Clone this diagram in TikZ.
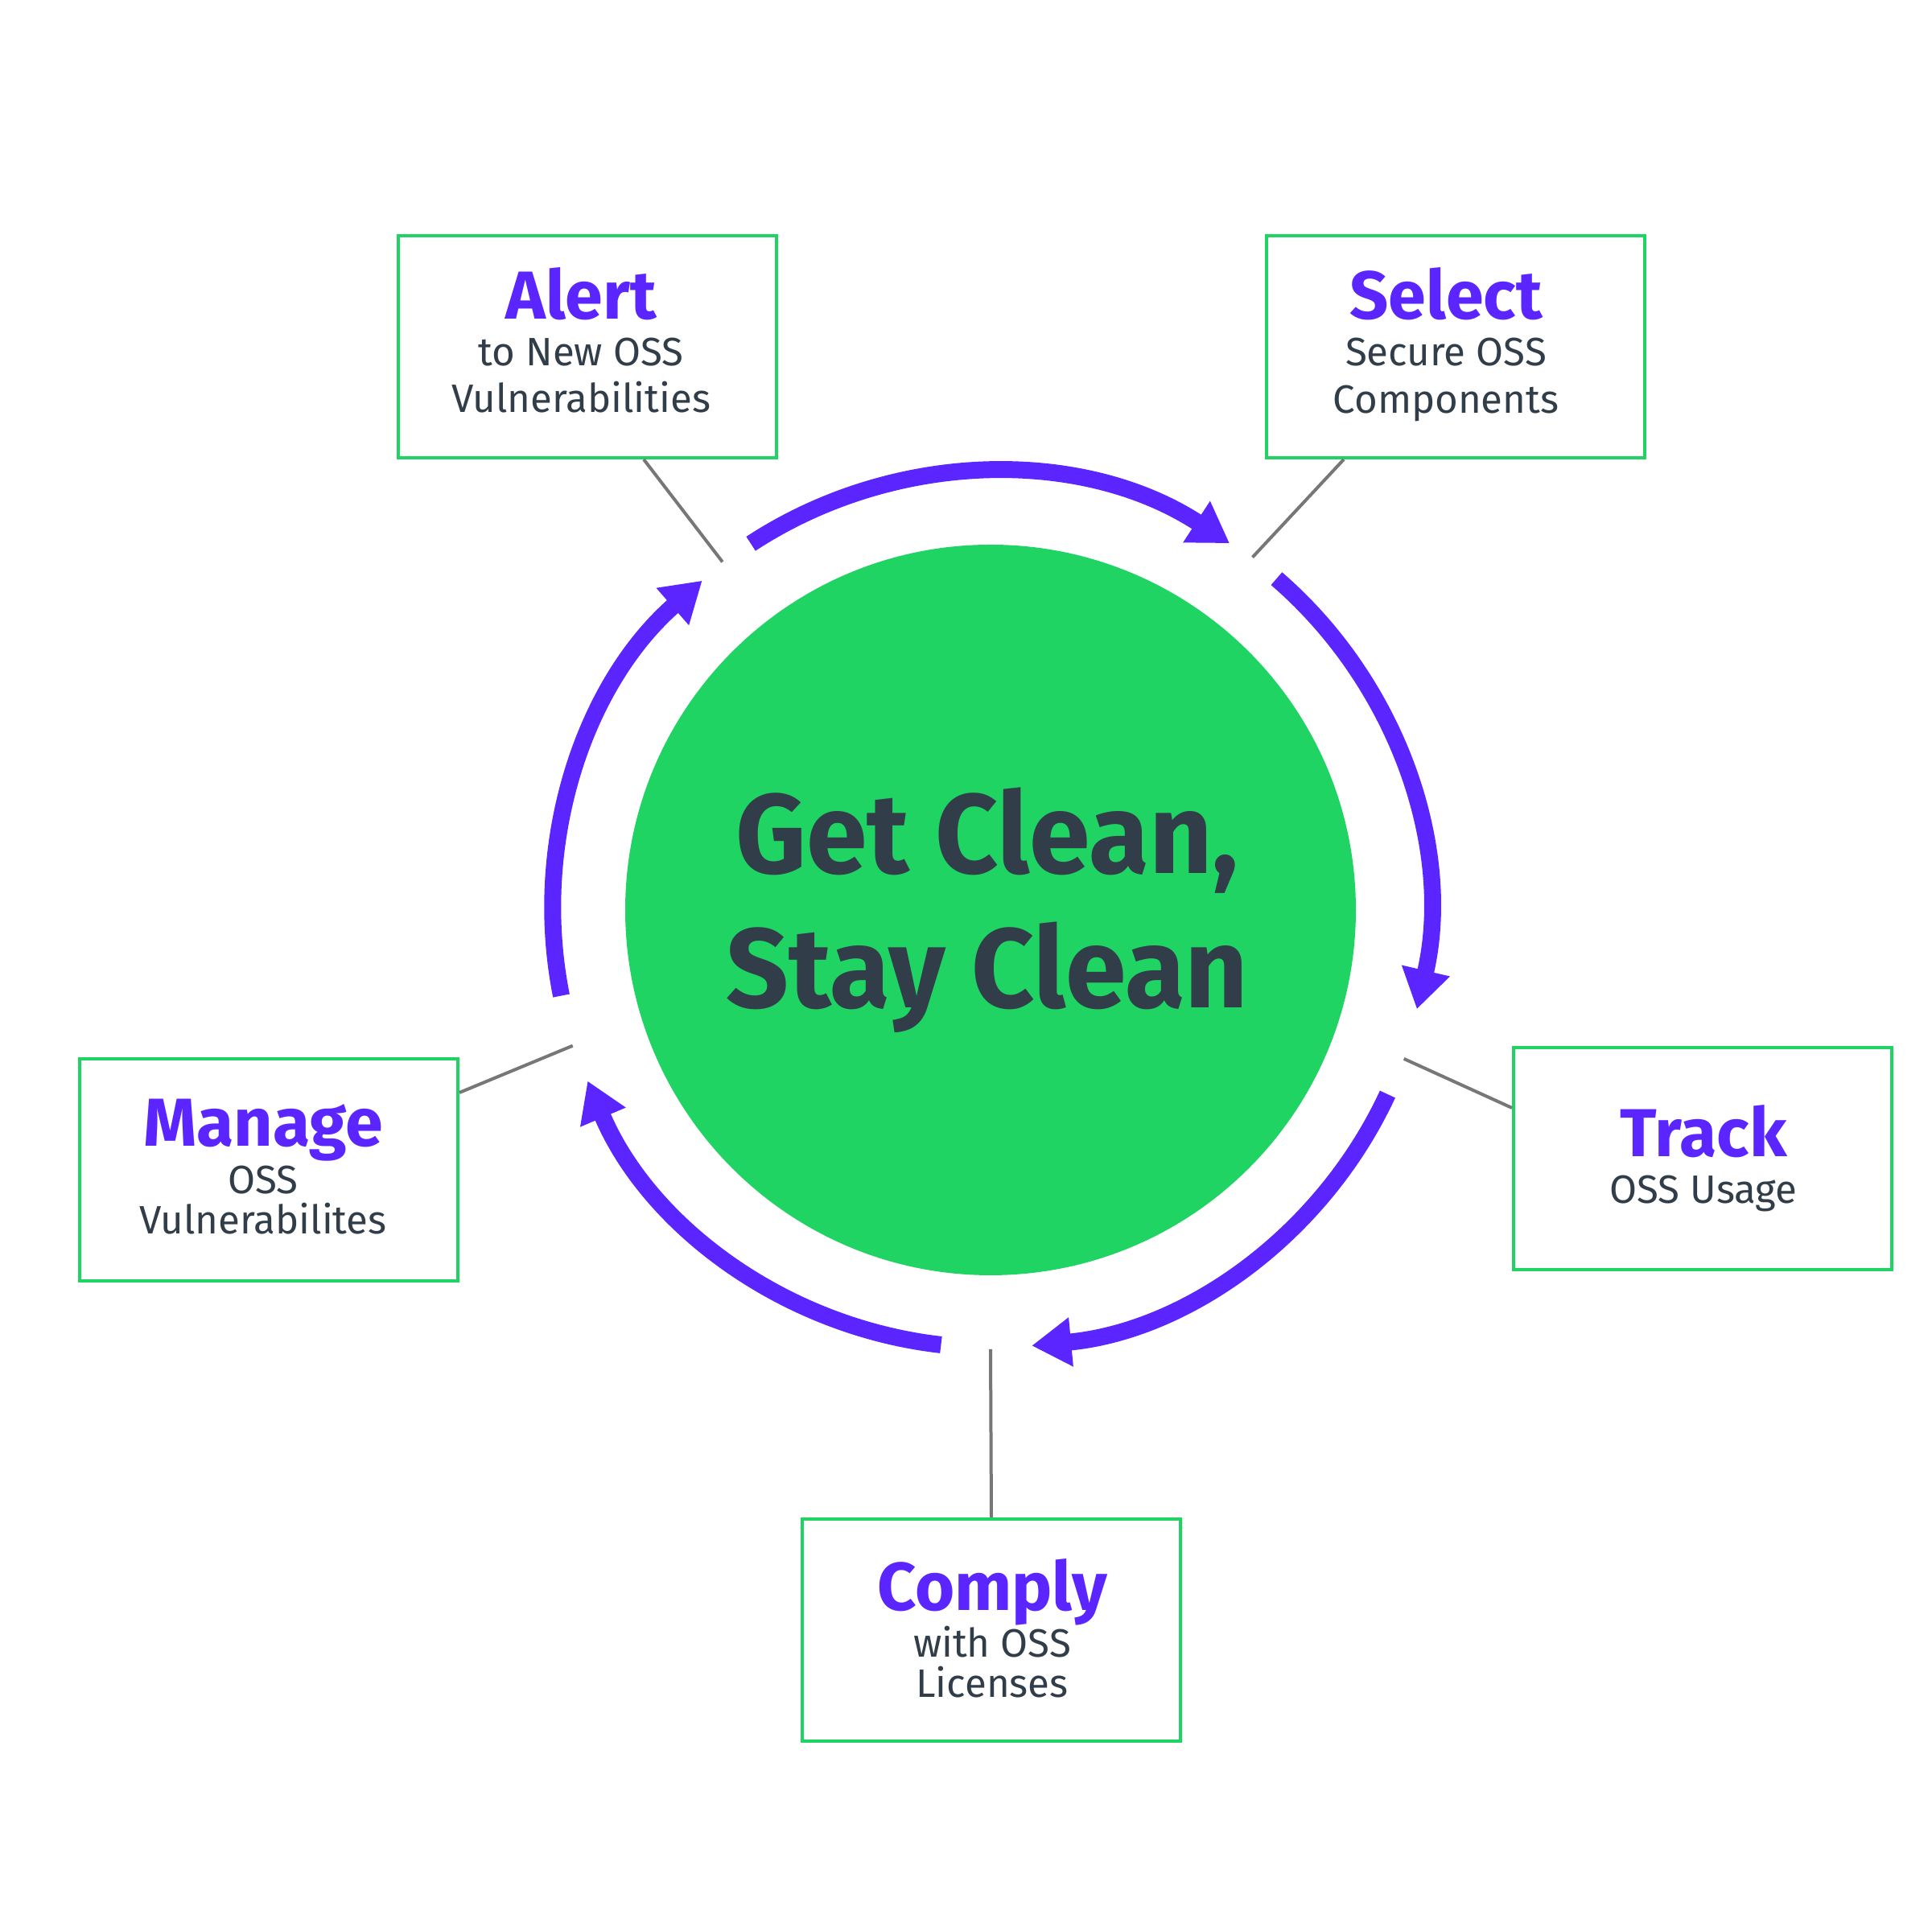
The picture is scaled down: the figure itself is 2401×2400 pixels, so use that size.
\documentclass[tikz,border=0pt]{standalone}
\usepackage{fontspec}
\setmainfont{Fira Sans}
\newfontfamily\hubfont[FakeStretch=0.97]{Fira Sans}
\usetikzlibrary{arrows.meta,calc}
\definecolor{brandgreen}{HTML}{1FD463}
\definecolor{brandpurple}{HTML}{5A25FF}
\definecolor{darktext}{HTML}{313D48}
\definecolor{connector}{HTML}{777777}
\begin{document}
\begin{tikzpicture}[x=0.1mm,y=0.1mm,
  stepbox/.style={draw=brandgreen, line width=0.4mm, minimum width=47mm, minimum height=27.6mm, inner sep=0pt, fill=white},
  ttl/.style={anchor=base, inner sep=0pt, text=brandpurple, font=\fontsize{24}{28}\selectfont\bfseries},
  sub/.style={anchor=base, inner sep=0pt, text=darktext, font=\fontsize{14}{17}\selectfont},
  big/.style={anchor=base, inner sep=0pt, text=darktext, font=\hubfont\fontsize{40}{48}\selectfont\bfseries},
  cyc/.style={draw=brandpurple, line width=2.1mm, -{Triangle[length=4.9mm,width=5.8mm]}},
  conn/.style={draw=connector, line width=0.4mm}]
\useasboundingbox[fill=white] (0,0) rectangle (2401,2400);
\coordinate (C) at (1231,1269);
% hub
\node[circle, fill=brandgreen, minimum size=90.8mm, inner sep=0pt] (hub) at (C) {};
\node[big] (hub1) at (1227,1314) {Get Clean,};
\node[big] (hub2) at (1227,1147) {Stay Clean};
% boxes
\node[stepbox] (alert) at (730,1969) {};
\node[stepbox] (select) at (1809,1969) {};
\node[stepbox] (manage) at (334,946) {};
\node[stepbox] (track) at (2116,960) {};
\node[stepbox] (comply) at (1232,374) {};
% texts
\node[ttl] (alertT) at (722,2003) {Alert};
\node[sub] (alertA) at (722,1945) {to New OSS};
\node[sub] (alertB) at (722,1887) {Vulnerabilities};
\node[ttl] (selectT) at (1797,2003) {Select};
\node[sub] (selectA) at (1797,1945) {Secure OSS};
\node[sub] (selectB) at (1797,1886) {Components};
\node[ttl] (manageT) at (327,975) {Manage};
\node[sub] (manageA) at (327,916) {OSS};
\node[sub] (manageB) at (327,866) {Vulnerabilites};
\node[ttl] (trackT) at (2117,962) {Track};
\node[sub] (trackA) at (2117,904) {OSS Usage};
\node[ttl] (complyT) at (1233,398) {Comply};
\node[sub] (complyA) at (1233,340) {with OSS};
\node[sub] (complyB) at (1233,290) {Licenses};
% gap points
\coordinate (ga) at ($(C)+(127.6:54.6mm)$);
\coordinate (gs) at ($(C)+(53.4:54.6mm)$);
\coordinate (gt) at ($(C)+(-19.8:54.6mm)$);
\coordinate (gc) at ($(C)+(-90:54.6mm)$);
\coordinate (gm) at ($(C)+(198:54.6mm)$);
% connectors
\draw[conn] ([xshift=7mm]alert.south) -- (ga);
\draw[conn] ([xshift=-13.9mm]select.south) -- (gs);
\draw[conn] ([yshift=6.3mm]track.west) -- (gt);
\draw[conn] (comply.north) -- (gc);
\draw[conn] ([yshift=9.6mm]manage.east) -- (gm);
% cycle arrows
\draw[cyc] ($(C)+(123.2:54.4mm)$) arc[start angle=123.2, end angle=56.9, radius=54.4mm];
\draw[cyc] ($(C)+(49.2:54.4mm)$) arc[start angle=49.2, end angle=-13.1, radius=54.4mm];
\draw[cyc] ($(C)+(-24.9:54.4mm)$) arc[start angle=-24.9, end angle=-84.6, radius=54.4mm];
\draw[cyc] ($(C)+(-96.5:54.4mm)$) arc[start angle=-96.5, end angle=-157, radius=54.4mm];
\draw[cyc] ($(C)+(191.3:54.4mm)$) arc[start angle=191.3, end angle=131.2, radius=54.4mm];
\end{tikzpicture}
\end{document}
